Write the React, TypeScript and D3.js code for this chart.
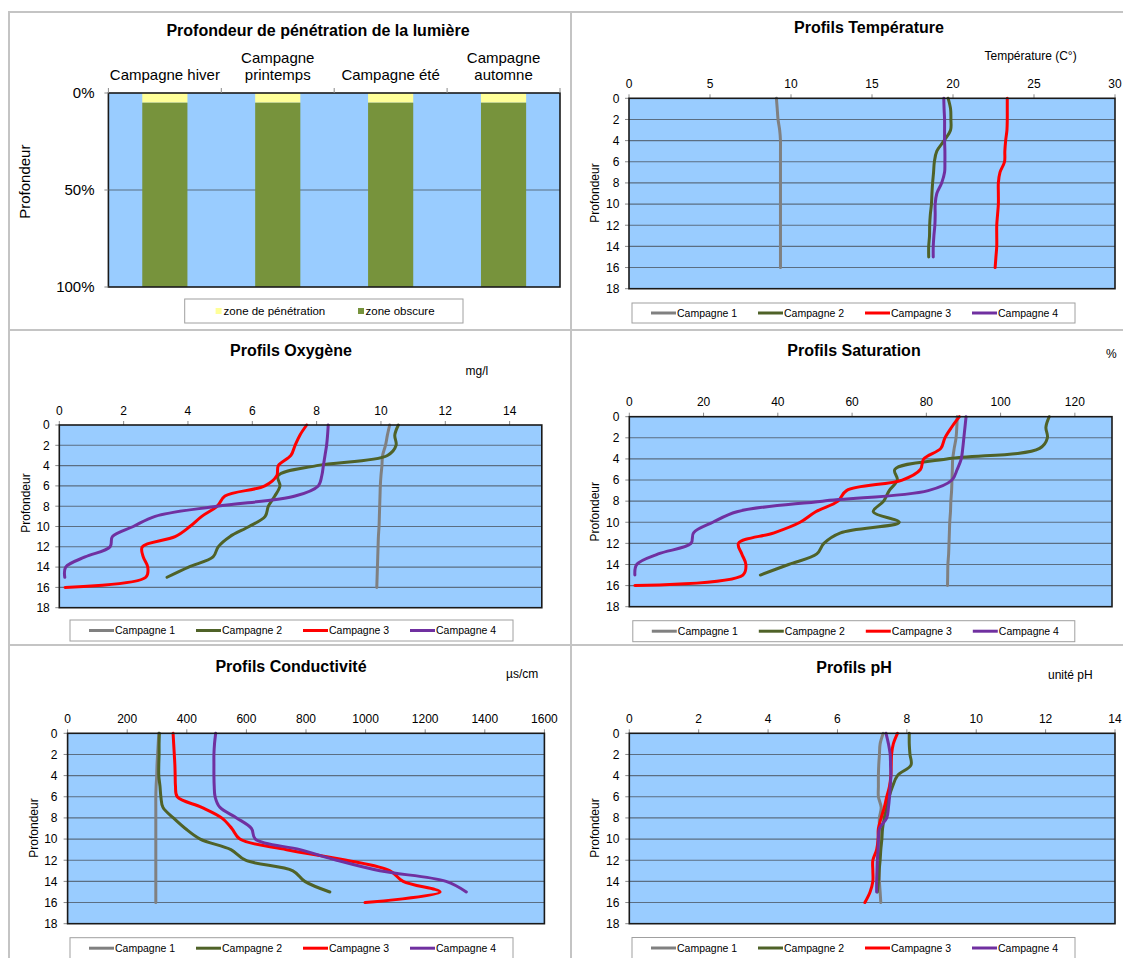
import React from "react";
import * as d3 from "d3";

// ---------- DATA ----------
const DEPTHS = [0, 1, 2, 3, 4, 5, 6, 7, 8, 9, 10, 11, 12, 13, 14, 15, 16];
const DEPTH_TICKS = [0, 2, 4, 6, 8, 10, 12, 14, 16, 18];
const SERIES_NAMES = ["Campagne 1", "Campagne 2", "Campagne 3", "Campagne 4"];
const SERIES_COLORS = ["#808080", "#4F6228", "#FF0000", "#7030A0"];

// Light penetration
const LIGHT_CATS = ["Campagne hiver", "Campagne printemps", "Campagne été", "Campagne automne"];
const LIGHT_CAT_LINES = [["Campagne hiver"], ["Campagne", "printemps"], ["Campagne été"], ["Campagne", "automne"]];
const LIGHT_PENETRATION = [5, 5, 5, 5];
const LIGHT_OBSCURE = [95, 95, 95, 95];
const LIGHT_TICKS = [0, 50, 100];

// Température (°C)
const TEMP_C1 = [9.1, 9.15, 9.2, 9.3, 9.35, 9.35, 9.35, 9.35, 9.35, 9.35, 9.35, 9.35, 9.35, 9.35, 9.35, 9.35, 9.35];
const TEMP_C2 = [19.7, 19.85, 19.87, 19.85, 19.45, 19.0, 18.85, 18.8, 18.74, 18.7, 18.67, 18.6, 18.56, 18.55, 18.5, 18.5];
const TEMP_C3 = [23.35, 23.35, 23.35, 23.33, 23.25, 23.2, 23.18, 22.9, 22.8, 22.8, 22.8, 22.75, 22.7, 22.7, 22.7, 22.65, 22.6];
const TEMP_C4 = [19.43, 19.45, 19.48, 19.48, 19.48, 19.5, 19.5, 19.48, 19.3, 19.0, 18.9, 18.9, 18.88, 18.82, 18.78, 18.78];

// Oxygène (mg/l)
const OXY_C1 = [10.27, 10.2, 10.14, 10.05, 10.03, 10.0, 9.98, 9.97, 9.96, 9.95, 9.94, 9.92, 9.91, 9.9, 9.89, 9.88, 9.87];
const OXY_C2 = [10.54, 10.43, 10.47, 10.2, 8.0, 6.8, 6.86, 6.7, 6.5, 6.4, 5.9, 5.3, 4.94, 4.78, 4.02, 3.35];
const OXY_C3 = [7.69, 7.48, 7.33, 7.2, 6.81, 6.76, 6.39, 5.15, 4.91, 4.43, 4.06, 3.6, 2.58, 2.61, 2.75, 2.69, 0.18];
const OXY_C4 = [8.36, 8.34, 8.31, 8.26, 8.21, 8.16, 8.05, 7.33, 4.9, 2.98, 2.3, 1.65, 1.58, 0.8, 0.2, 0.17];

// Saturation (%)
const SAT_C1 = [88.3, 88.2, 88.0, 87.5, 87.1, 87.0, 86.9, 86.8, 86.6, 86.5, 86.3, 86.2, 86.1, 86.0, 85.8, 85.75, 85.7];
const SAT_C2 = [113.1, 112.2, 112.6, 110.5, 85.5, 71.5, 72.2, 70.0, 68.5, 65.7, 72.7, 56.9, 52.4, 50.5, 42.9, 35.3];
const SAT_C3 = [88.9, 86.8, 85.0, 83.9, 79.3, 78.4, 73.5, 58.5, 56.2, 50.2, 46.0, 39.0, 29.4, 30.3, 31.4, 30.6, 1.5];
const SAT_C4 = [90.7, 90.4, 90.1, 89.8, 89.4, 88.3, 86.9, 80.5, 52.0, 29.0, 22.5, 17.3, 16.6, 7.8, 2.0, 1.5];

// Conductivité (µs/cm)
const COND_C1 = [306, 304, 302, 300, 299, 297, 296, 296, 296, 296, 296, 296, 296, 296, 296, 296, 296];
const COND_C2 = [308, 307, 307, 306, 306, 310, 313, 320, 355, 395, 445, 548, 597, 756, 796, 880];
const COND_C3 = [354, 356, 358, 360, 361, 362, 368, 450, 517, 551, 578, 735, 936, 1082, 1126, 1250, 998];
const COND_C4 = [497, 493, 491, 491, 491, 492, 495, 511, 567, 617, 630, 780, 903, 1048, 1270, 1338];

// pH
const PH_C1 = [7.32, 7.23, 7.21, 7.19, 7.18, 7.18, 7.18, 7.26, 7.21, 7.21, 7.21, 7.21, 7.21, 7.21, 7.21, 7.23, 7.25];
const PH_C2 = [8.07, 8.07, 8.09, 8.12, 7.73, 7.59, 7.49, 7.42, 7.35, 7.3, 7.28, 7.25, 7.23, 7.2, 7.18, 7.15];
const PH_C3 = [7.73, 7.61, 7.56, 7.55, 7.54, 7.5, 7.42, 7.35, 7.26, 7.18, 7.17, 7.13, 7.02, 7.02, 7.02, 6.94, 6.79];
const PH_C4 = [7.4, 7.47, 7.52, 7.53, 7.54, 7.52, 7.5, 7.47, 7.42, 7.21, 7.18, 7.17, 7.15, 7.14, 7.13, 7.13];

const TEMP_TICKS = [0, 5, 10, 15, 20, 25, 30];
const OXY_TICKS = [0, 2, 4, 6, 8, 10, 12, 14];
const SAT_TICKS = [0, 20, 40, 60, 80, 100, 120];
const COND_TICKS = [0, 200, 400, 600, 800, 1000, 1200, 1400, 1600];
const PH_TICKS = [0, 2, 4, 6, 8, 10, 12, 14];

// ---------- STYLE ----------
const FONT = "'Liberation Sans', Arial, Helvetica, sans-serif";
const PLOT_BG = "#99CCFF";
const GRID = "#5b6e82";
const BORDER = "#c4c4c4";

type Cfg = {
  title: string;
  titleX: number;
  titleY: number;
  unit: string;
  unitX: number;
  unitY: number;
  l: number;
  r: number;
  t: number;
  b: number;
  xMax: number;
  ticks: number[];
  yLabelRight: number;
  profX: number;
  profY: number;
  legX: number;
  legY: number;
  legW: number;
  legH: number;
  series: number[][];
};

function ProfilePanel({ cfg }: { cfg: Cfg }) {
  const x = d3.scaleLinear().domain([0, cfg.xMax]).range([cfg.l, cfg.r]);
  const y = d3.scaleLinear().domain([0, 18]).range([cfg.t, cfg.b]);
  const line = d3
    .line<number>()
    .x((v) => x(v))
    .y((_v, i) => y(DEPTHS[i]))
    .curve(d3.curveCatmullRom.alpha(0.5));
  const legStart = cfg.legX + 19;
  const legStep = 107;
  const legCy = cfg.legY + cfg.legH / 2;
  return (
    <g>
      <text x={cfg.titleX} y={cfg.titleY} textAnchor="middle" fontSize={16} fontWeight="bold" fontFamily={FONT}>
        {cfg.title}
      </text>
      <text x={cfg.unitX} y={cfg.unitY} fontSize={12} fontFamily={FONT}>
        {cfg.unit}
      </text>
      <rect x={cfg.l} y={cfg.t} width={cfg.r - cfg.l} height={cfg.b - cfg.t} fill={PLOT_BG} />
      {DEPTH_TICKS.slice(1, -1).map((d) => (
        <line key={d} x1={cfg.l} x2={cfg.r} y1={y(d)} y2={y(d)} stroke={GRID} strokeWidth={1.1} />
      ))}
      {cfg.ticks.map((tv) => (
        <g key={tv}>
          <line x1={x(tv)} x2={x(tv)} y1={cfg.t} y2={cfg.t - 4} stroke="#8a8a8a" strokeWidth={1} />
          <text x={x(tv)} y={cfg.t - 10.5} textAnchor="middle" fontSize={12} fontFamily={FONT}>
            {tv}
          </text>
        </g>
      ))}
      {DEPTH_TICKS.map((d) => (
        <g key={d}>
          <line x1={cfg.l - 4} x2={cfg.l} y1={y(d)} y2={y(d)} stroke="#8a8a8a" strokeWidth={1} />
          <text x={cfg.yLabelRight} y={y(d)} dy="0.36em" textAnchor="end" fontSize={12} fontFamily={FONT}>
            {d}
          </text>
        </g>
      ))}
      <text
        transform={`translate(${cfg.profX},${cfg.profY}) rotate(-90)`}
        textAnchor="middle"
        dy="0.36em"
        fontSize={12}
        fontFamily={FONT}
      >
        Profondeur
      </text>
      {cfg.series.map((s, i) => (
        <path key={i} d={line(s) || ""} fill="none" stroke={SERIES_COLORS[i]} strokeWidth={3} strokeLinejoin="round" strokeLinecap="round" />
      ))}
      <rect x={cfg.l} y={cfg.t} width={cfg.r - cfg.l} height={cfg.b - cfg.t} fill="none" stroke="#1a1a1a" strokeWidth={1.6} />
      <rect x={cfg.legX} y={cfg.legY} width={cfg.legW} height={cfg.legH} fill="#fff" stroke="#a0a0a0" strokeWidth={1} />
      {SERIES_NAMES.map((n, i) => (
        <g key={n}>
          <line
            x1={legStart + i * legStep}
            x2={legStart + i * legStep + 25}
            y1={legCy}
            y2={legCy}
            stroke={SERIES_COLORS[i]}
            strokeWidth={3}
          />
          <text x={legStart + i * legStep + 26} y={legCy} dy="0.36em" fontSize={10.5} fontFamily={FONT}>
            {n}
          </text>
        </g>
      ))}
    </g>
  );
}

function LightPanel() {
  const L = 108.4,
    R = 560,
    T = 93,
    B = 287;
  const x = d3.scaleBand<string>().domain(LIGHT_CATS).range([L, R]);
  const y = d3.scaleLinear().domain([0, 100]).range([T, B]);
  const rows = LIGHT_CATS.map((c, i) => ({ cat: c, pen: LIGHT_PENETRATION[i], obs: LIGHT_OBSCURE[i] }));
  const stacked = d3.stack<any>().keys(["pen", "obs"])(rows);
  const colors: Record<string, string> = { pen: "#FFFF99", obs: "#77933C" };
  const bw = x.bandwidth() * 0.4;
  return (
    <g>
      <text x={318} y={36} textAnchor="middle" fontSize={16} fontWeight="bold" fontFamily={FONT}>
        Profondeur de pénétration de la lumière
      </text>
      <rect x={L} y={T} width={R - L} height={B - T} fill={PLOT_BG} />
      <line x1={L} x2={R} y1={y(50)} y2={y(50)} stroke={GRID} strokeWidth={1.1} />
      {stacked.map((layer) =>
        layer.map((d, i) => (
          <rect
            key={layer.key + i}
            x={(x(rows[i].cat) as number) + (x.bandwidth() - bw) / 2}
            y={y(d[0])}
            width={bw}
            height={y(d[1]) - y(d[0])}
            fill={colors[layer.key]}
          />
        ))
      )}
      <rect x={L} y={T} width={R - L} height={B - T} fill="none" stroke="#1a1a1a" strokeWidth={1.6} />
      {LIGHT_CATS.map((c, i) => (
        <line key={c} x1={x(c) as number} x2={x(c) as number} y1={T} y2={T - 5} stroke="#8a8a8a" strokeWidth={1} />
      ))}
      <line x1={R} x2={R} y1={T} y2={T - 5} stroke="#8a8a8a" strokeWidth={1} />
      {LIGHT_CAT_LINES.map((lines, i) => {
        const cx = (x(LIGHT_CATS[i]) as number) + x.bandwidth() / 2;
        return lines.map((ln, j) => (
          <text key={i + "-" + j} x={cx} y={80 - (lines.length - 1 - j) * 17} textAnchor="middle" fontSize={15} fontFamily={FONT}>
            {ln}
          </text>
        ));
      })}
      {LIGHT_TICKS.map((tv) => (
        <g key={tv}>
          <line x1={L - 4} x2={L} y1={y(tv)} y2={y(tv)} stroke="#8a8a8a" strokeWidth={1} />
          <text x={94.5} y={y(tv)} dy="0.36em" textAnchor="end" fontSize={15} fontFamily={FONT}>
            {tv + "%"}
          </text>
        </g>
      ))}
      <text transform="translate(24.7,181.7) rotate(-90)" textAnchor="middle" dy="0.36em" fontSize={15} fontFamily={FONT}>
        Profondeur
      </text>
      <rect x={184.7} y={299} width={278.3} height={24} fill="#fff" stroke="#a0a0a0" strokeWidth={1} />
      <rect x={215.6} y={308} width={6} height={6} fill="#FFFF99" />
      <text x={223.6} y={311} dy="0.36em" fontSize={11.5} fontFamily={FONT}>
        zone de pénétration
      </text>
      <rect x={358} y={308} width={6} height={6} fill="#77933C" />
      <text x={365.5} y={311} dy="0.36em" fontSize={11.5} fontFamily={FONT}>
        zone obscure
      </text>
    </g>
  );
}

const PANELS: Cfg[] = [
  {
    title: "Profils Température", titleX: 869, titleY: 33,
    unit: "Température (C°)", unitX: 984.5, unitY: 60,
    l: 629, r: 1115, t: 98.3, b: 288.7, xMax: 30, ticks: TEMP_TICKS,
    yLabelRight: 619.4, profX: 594.7, profY: 193,
    legX: 632, legY: 303, legW: 443, legH: 20,
    series: [TEMP_C1, TEMP_C2, TEMP_C3, TEMP_C4],
  },
  {
    title: "Profils Oxygène", titleX: 291, titleY: 356,
    unit: "mg/l", unitX: 465.5, unitY: 375,
    l: 59.3, r: 541.8, t: 425, b: 607.7, xMax: 15, ticks: OXY_TICKS,
    yLabelRight: 49.8, profX: 26, profY: 503,
    legX: 70, legY: 620, legW: 443, legH: 21,
    series: [OXY_C1, OXY_C2, OXY_C3, OXY_C4],
  },
  {
    title: "Profils Saturation", titleX: 854, titleY: 356,
    unit: "%", unitX: 1106, unitY: 358,
    l: 629.3, r: 1112, t: 416.7, b: 606.7, xMax: 130, ticks: SAT_TICKS,
    yLabelRight: 619.4, profX: 594.7, profY: 511.7,
    legX: 632.8, legY: 620.7, legW: 442, legH: 21,
    series: [SAT_C1, SAT_C2, SAT_C3, SAT_C4],
  },
  {
    title: "Profils Conductivité", titleX: 291, titleY: 672,
    unit: "µs/cm", unitX: 506, unitY: 678,
    l: 67.6, r: 544.4, t: 733.3, b: 923.7, xMax: 1600, ticks: COND_TICKS,
    yLabelRight: 57.5, profX: 33.8, profY: 828,
    legX: 70, legY: 937.7, legW: 443, legH: 21,
    series: [COND_C1, COND_C2, COND_C3, COND_C4],
  },
  {
    title: "Profils pH", titleX: 854, titleY: 672.7,
    unit: "unité pH", unitX: 1048, unitY: 679,
    l: 629.3, r: 1115, t: 733.3, b: 923.7, xMax: 14, ticks: PH_TICKS,
    yLabelRight: 619.4, profX: 594.7, profY: 828,
    legX: 632, legY: 937.5, legW: 443, legH: 21,
    series: [PH_C1, PH_C2, PH_C3, PH_C4],
  },
];

export default function App() {
  return (
    <svg
      width={1123}
      height={958}
      viewBox="0 0 1123 958"
      style={{ position: "absolute", left: 0, top: 0, background: "#fff" }}
    >
      <rect x={0} y={0} width={1123} height={958} fill="#fff" />
      <g stroke={BORDER} strokeWidth={2}>
        <line x1={9} x2={9} y1={12} y2={958} />
        <line x1={8} x2={1123} y1={12} y2={12} />
        <line x1={571} x2={571} y1={12} y2={958} />
        <line x1={8} x2={1123} y1={330} y2={330} />
        <line x1={8} x2={1123} y1={645} y2={645} />
      </g>
      <LightPanel />
      {PANELS.map((p) => (
        <ProfilePanel key={p.title} cfg={p} />
      ))}
    </svg>
  );
}
